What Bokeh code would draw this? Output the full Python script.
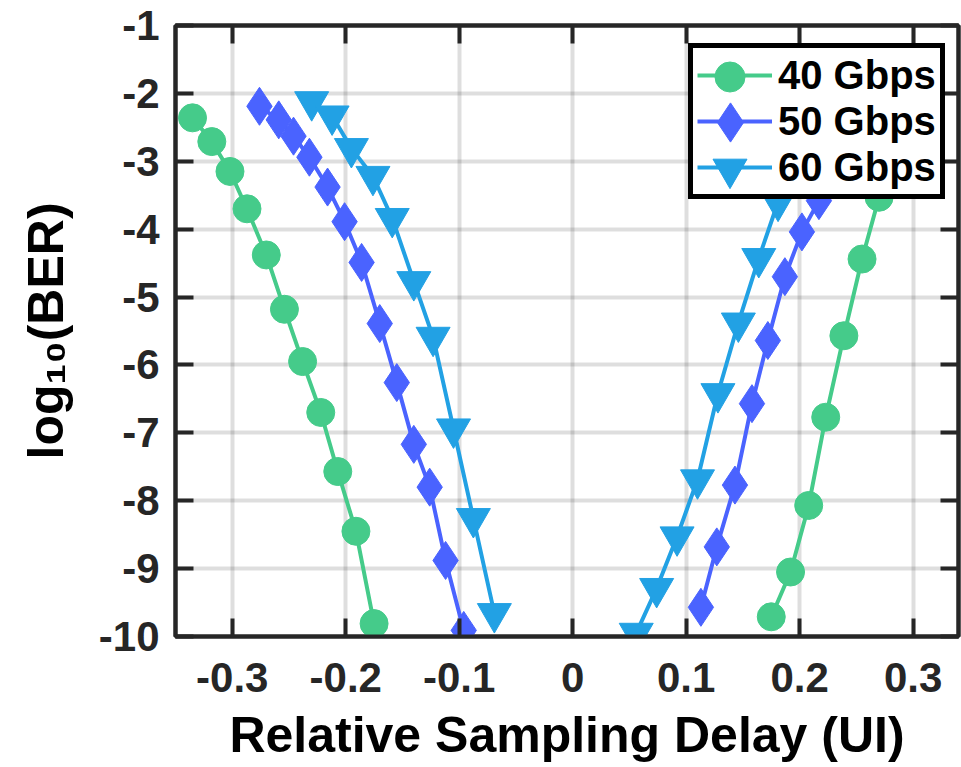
from bokeh.plotting import figure
from bokeh.models import (Range1d, FixedTicker, LinearAxis, Legend, LegendItem,
                          ColumnDataSource)
from bokeh.embed import file_html
from bokeh.resources import INLINE

# ---------------- data ----------------
x_ticks = [-0.3, -0.2, -0.1, 0, 0.1, 0.2, 0.3]
x_tick_labels = ["-0.3", "-0.2", "-0.1", "0", "0.1", "0.2", "0.3"]
y_ticks = [-10, -9, -8, -7, -6, -5, -4, -3, -2, -1]
y_tick_labels = ["-10", "-9", "-8", "-7", "-6", "-5", "-4", "-3", "-2", "-1"]

series_names = ["40 Gbps", "50 Gbps", "60 Gbps"]

x40_left = [-0.335, -0.318, -0.302, -0.287, -0.270, -0.254, -0.238, -0.222, -0.207, -0.191, -0.175]
y40_left = [-2.36, -2.71, -3.15, -3.70, -4.38, -5.18, -5.95, -6.70, -7.57, -8.45, -9.81]
x40_right = [0.175, 0.192, 0.208, 0.223, 0.239, 0.255, 0.270]
y40_right = [-9.71, -9.05, -8.07, -6.77, -5.57, -4.44, -3.53]

x50_left = [-0.276, -0.259, -0.246, -0.232, -0.216, -0.201, -0.186, -0.170, -0.155, -0.140, -0.126, -0.112, -0.096]
y50_left = [-2.19, -2.39, -2.63, -2.94, -3.38, -3.89, -4.49, -5.39, -6.26, -7.17, -7.80, -8.88, -9.91]
x50_right = [0.113, 0.127, 0.143, 0.158, 0.172, 0.187, 0.202, 0.217]
y50_right = [-9.57, -8.68, -7.77, -6.57, -5.64, -4.70, -4.04, -3.58]

x60_left = [-0.230, -0.212, -0.195, -0.176, -0.159, -0.140, -0.123, -0.105, -0.0875, -0.069]
y60_left = [-2.12, -2.33, -2.81, -3.22, -3.84, -4.77, -5.59, -6.94, -8.26, -9.66]
x60_right = [0.056, 0.074, 0.092, 0.110, 0.128, 0.146, 0.164, 0.181]
y60_right = [-9.95, -9.29, -8.53, -7.69, -6.42, -5.38, -4.43, -3.60]

colors = ["#45CB8A", "#4A63FF", "#22A1E4"]

# ---------------- figure ----------------
FONT = "Liberation Sans"
AX = "#262626"

p = figure(width=961, height=767,
           x_range=Range1d(-0.35, 0.34), y_range=Range1d(-10, -1),
           output_backend="svg", toolbar_location=None,
           min_border_left=175, min_border_right=3, min_border_top=25, min_border_bottom=131)
p.background_fill_color = "white"
p.border_fill_color = "white"
p.outline_line_color = AX
p.outline_line_width = 4

xt = FixedTicker(ticks=x_ticks)
yt = FixedTicker(ticks=y_ticks)


def style_axis(ax):
    ax.axis_line_color = AX
    ax.axis_line_width = 4
    ax.major_tick_line_color = AX
    ax.major_tick_line_width = 4
    ax.major_tick_in = 18
    ax.major_tick_out = 0
    ax.minor_tick_line_color = None
    ax.major_label_text_font = FONT
    ax.major_label_text_font_style = "bold"
    ax.major_label_text_font_size = "42px"
    ax.major_label_text_color = AX
    ax.axis_label_text_font = FONT
    ax.axis_label_text_font_style = "bold"
    ax.axis_label_text_font_size = "50px"
    ax.axis_label_text_color = "black"


for ax in p.xaxis:
    ax.ticker = xt
    ax.major_label_overrides = dict(zip(x_ticks, x_tick_labels))
    ax.axis_label = "Relative Sampling Delay (UI)"
    style_axis(ax)
    ax.major_label_standoff = 26
    ax.axis_label_standoff = 12
for ax in p.yaxis:
    ax.ticker = yt
    ax.major_label_overrides = dict(zip(y_ticks, y_tick_labels))
    ax.axis_label = "log\u2081\u2080(BER)"
    style_axis(ax)
    ax.major_label_standoff = 16
    ax.axis_label_standoff = 22

top_axis = LinearAxis(ticker=xt)
style_axis(top_axis)
top_axis.major_label_overrides = {t: "" for t in x_ticks}
top_axis.major_label_standoff = 0
p.add_layout(top_axis, "above")
right_axis = LinearAxis(ticker=yt)
style_axis(right_axis)
right_axis.major_label_overrides = {t: "" for t in y_ticks}
right_axis.major_label_standoff = 0
p.add_layout(right_axis, "right")

p.xgrid.ticker = xt
p.ygrid.ticker = yt
for g in (p.xgrid, p.ygrid):
    g.grid_line_color = "black"
    g.grid_line_alpha = 0.13
    g.grid_line_width = 4

# ---------------- series ----------------
nan = float("nan")
data = [
    (x40_left, y40_left, x40_right, y40_right, "circle", 28, 75),
    (x50_left, y50_left, x50_right, y50_right, "diamond", 38, 98),
    (x60_left, y60_left, x60_right, y60_right, "inverted_triangle", 34, 85),
]

line_items = []
marker_renderers = []
for (xl, yl, xr, yr, marker, size, lg), color, name in zip(data, colors, series_names):
    src = ColumnDataSource(dict(x=xl + [nan] + xr, y=yl + [nan] + yr))
    ln = p.line("x", "y", source=src, line_color=color, line_width=4)
    sc = p.scatter("x", "y", source=src, marker=marker, size=size,
                   fill_color=color, line_color=color, line_width=1)
    line_items.append(LegendItem(label=name, renderers=[ln]))
    marker_renderers.append((sc, lg))

legend = Legend(items=line_items, location=(513, 437))
legend.border_line_color = "black"
legend.border_line_alpha = 1.0
legend.border_line_width = 5
legend.background_fill_color = "white"
legend.background_fill_alpha = 1.0
legend.label_text_font = FONT
legend.label_text_font_style = "bold"
legend.label_text_font_size = "40px"
legend.label_text_color = "black"
legend.glyph_width = 75
legend.glyph_height = 46
legend.label_height = 46
legend.spacing = 0
legend.padding = 4
legend.margin = 0
legend.label_standoff = 6
p.add_layout(legend, "center")

# frameless single-item legends that only carry the (larger) markers
row_centers = [76, 122, 168]      # page y of the legend rows
glyph_cx = 729.5                  # page x of the legend glyph centre
frame_left, frame_bottom = 175, 636
for (sc, g), cy in zip(marker_renderers, row_centers):
    ml = Legend(items=[LegendItem(label="", renderers=[sc])],
                location=(glyph_cx - g / 2 - frame_left, frame_bottom - cy - g / 2))
    ml.border_line_color = None
    ml.background_fill_alpha = 0.0
    ml.label_text_font_size = "10px"
    ml.glyph_width = g
    ml.glyph_height = g
    ml.label_height = 10
    ml.label_width = 0
    ml.label_standoff = 0
    ml.spacing = 0
    ml.padding = 0
    ml.margin = 0
    p.add_layout(ml, "center")

open("out.html", "w").write(file_html(p, INLINE))
